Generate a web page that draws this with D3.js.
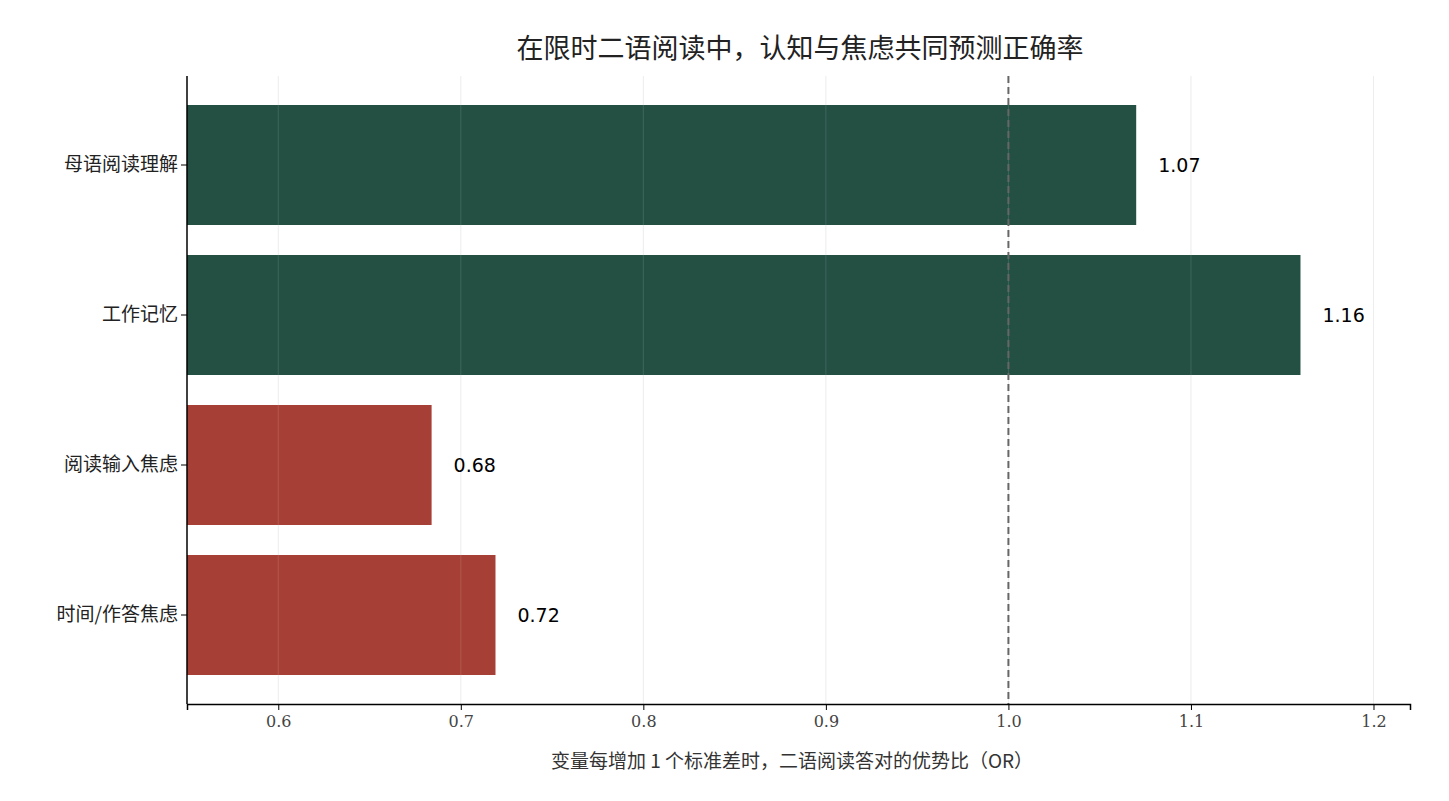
<!DOCTYPE html><html><head><meta charset="utf-8">
<script src="https://cdn.jsdelivr.net/npm/d3@7"></script>
<style>body{margin:0;background:#fff}</style></head><body>
<svg id="c" width="1449" height="801"></svg>
<script>
const categories=["母语阅读理解","工作记忆","阅读输入焦虑","时间/作答焦虑"];
const values=[1.07,1.16,0.684,0.719];
const labels=["1.07","1.16","0.68","0.72"];
const ticks=[0.6,0.7,0.8,0.9,1.0,1.1,1.2];
const svg=d3.select("#c");
const cjk="'Noto Sans CJK SC',sans-serif";
const x=d3.scaleLinear().domain([0.55,1.22]).range([187,1410]);
const y=d3.scaleBand().domain(categories).range([90,690]).paddingInner(0.2).paddingOuter(0.1);
svg.append("g").selectAll("line").data(ticks).join("line")
 .attr("x1",d=>x(d)).attr("x2",d=>x(d)).attr("y1",76).attr("y2",704)
 .attr("stroke","#ebebeb").attr("stroke-width",1);
svg.append("g").selectAll("rect").data(values).join("rect")
 .attr("x",x(0.55)).attr("y",(d,i)=>y(categories[i])).attr("height",y.bandwidth())
 .attr("width",d=>x(d)-x(0.55)).attr("fill",d=>d>=1?"#245044":"#a64037");
svg.append("g").selectAll("line").data(ticks).join("line")
 .attr("x1",d=>x(d)).attr("x2",d=>x(d)).attr("y1",76).attr("y2",704)
 .attr("stroke","#ffffff").attr("stroke-opacity",0.12);
svg.append("line").attr("x1",x(1)).attr("x2",x(1)).attr("y1",76).attr("y2",704)
 .attr("stroke","#666").attr("stroke-width",2).attr("stroke-dasharray","7,4");
svg.append("g").selectAll("text").data(values).join("text")
 .attr("x",d=>x(d)+22).attr("y",(d,i)=>y(categories[i])+y.bandwidth()/2)
 .attr("dy","0.35em").attr("font-family","'DejaVu Sans',sans-serif").attr("font-size",19)
 .text((d,i)=>labels[i]);
const xa=svg.append("g").attr("transform","translate(0,704)").call(d3.axisBottom(x).tickValues(ticks).tickFormat(d3.format(".1f")).tickSize(6));
xa.select(".domain").attr("stroke-width",1.5);
xa.selectAll("text").attr("font-family","'DejaVu Serif',serif").attr("font-size",16).attr("fill","#444").attr("dy","0.9em");
const ya=svg.append("g").attr("transform","translate(187,0)").call(d3.axisLeft(y).tickSize(6));
ya.select(".domain").attr("d","M0,76V704").attr("stroke-width",1.5);
ya.selectAll("text").attr("font-family",cjk).attr("font-size",19).attr("fill","#222");
svg.append("text").attr("x",800).attr("y",58).attr("text-anchor","middle")
 .attr("font-family",cjk).attr("font-size",27).attr("fill","#222").text("在限时二语阅读中，认知与焦虑共同预测正确率");
svg.append("text").attr("x",792).attr("y",768).attr("text-anchor","middle")
 .attr("font-family",cjk).attr("font-size",19).attr("fill","#333").text("变量每增加 1 个标准差时，二语阅读答对的优势比（OR）");
</script></body></html>
